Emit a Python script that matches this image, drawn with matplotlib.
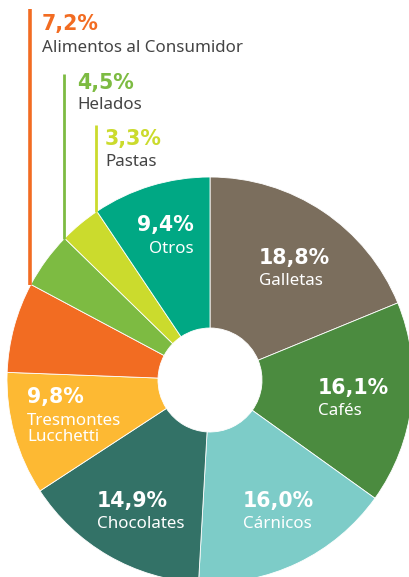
import matplotlib
matplotlib.use("Agg")
import matplotlib.pyplot as plt
import numpy as np

# ---- data ----
categories = ["Galletas", "Cafés", "Cárnicos", "Chocolates", "Tresmontes\nLucchetti",
              "Alimentos al Consumidor", "Helados", "Pastas", "Otros"]
values = [18.8, 16.1, 16.0, 14.9, 9.8, 7.2, 4.5, 3.3, 9.4]
pct_labels = ["18,8%", "16,1%", "16,0%", "14,9%", "9,8%", "7,2%", "4,5%", "3,3%", "9,4%"]
colors = ["#7B6E5D", "#4B8B3F", "#7DCCC8", "#337267", "#FDB933",
          "#F26C22", "#7DBB42", "#CBDB2D", "#00A884"]

# ---- layout (pixels) ----
W, H = 409, 577
CX, CY, R, RH = 210, 380, 203, 52

fig = plt.figure(figsize=(W / 100, H / 100), dpi=100)
ax = fig.add_axes([0, 0, 1, 1])
wedges, _ = ax.pie(values, colors=colors, startangle=90, counterclock=False,
                   radius=1.0, wedgeprops=dict(width=1 - RH / R, edgecolor="white", linewidth=0.6))
ax.set_xlim(-CX / R, (W - CX) / R)
ax.set_ylim(-(H - CY) / R, CY / R)
ax.set_aspect("auto")
ax.axis("off")


def P(x, y):
    return (x - CX) / R, (CY - y) / R


bold = dict(family=["DejaVu Sans"], weight="bold", fontsize=14.8)
reg = dict(family=["Noto Sans", "DejaVu Sans"], fontsize=12.2)

# inside labels: (index, pct px pos, name px pos, ha)
inside = [
    (0, (259, 258), (259, 281), "left"),
    (1, (318, 388), (318, 411), "left"),
    (2, (243, 501), (243, 524), "left"),
    (3, (97, 501), (97, 524), "left"),
    (4, (27, 397), (27, 429), "left"),
    (8, (194, 225), (194, 249), "right"),
]
for i, pp, npos, ha in inside:
    ax.text(*P(*pp), pct_labels[i], color="white", ha=ha, va="center", **bold)
    ax.text(*P(*npos), categories[i], color="white", ha=ha, va="center",
            linespacing=1.0, **reg)

# outside labels with leader lines
cum = np.cumsum(values) / sum(values)
outside = [
    (5, 9, (42, 24), (42, 48), 2.6),
    (6, 74, (77, 83), (77, 105), 2.0),
    (7, 125, (105, 139), (105, 162), 2.0),
]
for i, ytop, pp, npos, lw in outside:
    ang = np.deg2rad(90 - 360 * cum[i] + 0.3)
    x0, y0 = np.cos(ang), np.sin(ang)
    ax.plot([x0, x0], [y0, (CY - ytop) / R], color=colors[i], lw=lw,
            solid_capstyle="butt")
    ax.text(*P(*pp), pct_labels[i], color=colors[i], ha="left", va="center", **bold)
    ax.text(*P(*npos), categories[i], color="#444444", ha="left", va="center", **reg)

fig.savefig("out.png", dpi=100)
